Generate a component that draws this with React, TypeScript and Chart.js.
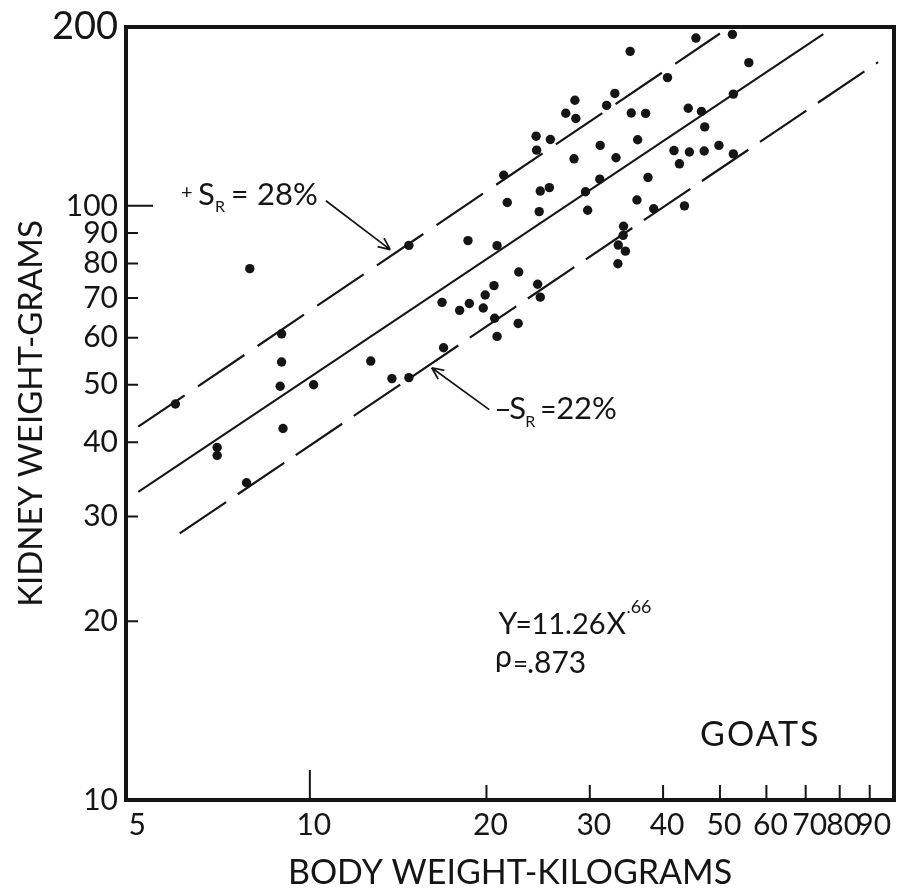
import React, { useEffect, useRef } from "react";
import { Chart, registerables } from "chart.js";

Chart.register(...registerables);

const FONT = 'Lato, "Open Sans", "DejaVu Sans", sans-serif';
const INK = "#151515";
const W = "400";

// Body weight (kg) of each goat
const bodyWeightKg = [
  5.9, 6.95, 6.95, 7.9, 7.8, 8.95, 8.95, 8.9, 9.0, 10.15,
  12.7, 13.8, 14.75, 14.75, 16.8, 16.9, 18.0, 18.6, 18.7, 19.75,
  19.9, 20.6, 20.65, 20.85, 20.85, 21.4, 21.7, 22.7, 22.65, 24.3,
  24.35, 24.45, 24.7, 24.6, 24.7, 25.6, 25.7, 27.3, 28.3, 28.4,
  28.2, 29.5, 29.75, 31.25, 31.2, 32.05, 33.1, 33.25, 33.55, 33.5,
  34.25, 34.2, 34.5, 35.15, 35.3, 36.2, 36.1, 37.35, 37.7, 38.55,
  40.7, 41.75, 42.65, 43.5, 44.15, 44.35, 45.5, 46.5, 47.1, 47.0,
  49.8, 52.5, 52.7, 52.7, 56.0,
];

// Kidney weight (g) of each goat
const kidneyWeightG = [
  46.4, 39.2, 38.0, 78.4, 34.2, 60.9, 54.6, 49.7, 42.2, 50.0,
  54.8, 51.2, 51.4, 85.8, 68.8, 57.7, 66.7, 87.4, 68.5, 67.3,
  70.8, 73.4, 64.7, 85.7, 60.3, 112.6, 101.3, 77.4, 63.4, 131.0,
  124.1, 73.8, 70.2, 97.8, 105.9, 107.3, 129.3, 143.2, 150.6, 140.3,
  120.0, 105.6, 98.3, 126.4, 110.9, 147.6, 154.6, 120.5, 85.9, 79.9,
  92.4, 89.2, 83.9, 182.0, 143.3, 129.2, 102.3, 143.1, 111.6, 98.9,
  164.4, 123.9, 117.7, 100.0, 146.0, 123.2, 191.6, 144.2, 135.8, 123.7,
  126.4, 194.4, 154.2, 122.3, 174.2,
];

// Fitted line Y = 11.26 X^.66 (end points) and the +28% / -22% bands
const fitX = [5.1, 75];
const fitY = [33.0, 194.6];
const upperX = [5.1, 50];
const upperY = [42.5, 195];
const lowerX = [6.0, 93];
const lowerY = [28.1, 174.5];

const xTickValues = [5, 10, 20, 30, 40, 50, 60, 70, 80, 90];
const yTickValues = [10, 20, 30, 40, 50, 60, 70, 80, 90, 100, 200];

// Annotation anchors (data coordinates)
const plusLabelAt = [6.03, 100.4];
const plusArrow = [10.65, 102, 13.71, 84.4];
const minusLabelAt = [20.61, 43.7];
const minusArrow = [20.22, 45.4, 16.13, 53.4];
const equationAt = [20.96, 19.03];
const rhoAt = [20.68, 16.38];
const goatsAt = [46.25, 12.32];

type Part = { text: string; size: number; dx: number; dy?: number };

function drawParts(ctx: CanvasRenderingContext2D, x: number, y: number, parts: Part[]) {
  for (const p of parts) {
    ctx.font = `${W} ${p.size}px ${FONT}`;
    ctx.fillText(p.text, x + p.dx, y + (p.dy || 0));
  }
}

function arrow(ctx: CanvasRenderingContext2D, x1: number, y1: number, x2: number, y2: number) {
  ctx.beginPath();
  ctx.moveTo(x1, y1);
  ctx.lineTo(x2, y2);
  const ang = Math.atan2(y2 - y1, x2 - x1);
  const h = 13;
  const spread = 0.42;
  ctx.moveTo(x2, y2);
  ctx.lineTo(x2 - h * Math.cos(ang - spread), y2 - h * Math.sin(ang - spread));
  ctx.moveTo(x2, y2);
  ctx.lineTo(x2 - h * Math.cos(ang + spread), y2 - h * Math.sin(ang + spread));
  ctx.stroke();
}

const paperPlugin = {
  id: "paper",
  afterDatasetsDraw(chart: any) {
    const { ctx, chartArea: a, scales } = chart;
    const xs = scales.x;
    const ys = scales.y;
    ctx.save();
    ctx.strokeStyle = INK;
    ctx.fillStyle = INK;
    ctx.lineCap = "butt";

    // frame
    ctx.lineWidth = 4;
    ctx.strokeRect(a.left, a.top, a.right - a.left, a.bottom - a.top);

    // inner tick marks
    ctx.lineWidth = 2;
    ctx.beginPath();
    for (const v of yTickValues) {
      if (v === 10 || v === 200) continue;
      const py = ys.getPixelForValue(v);
      const len = v === 100 ? 27 : 12;
      ctx.moveTo(a.left, py);
      ctx.lineTo(a.left + len, py);
    }
    for (const v of xTickValues) {
      if (v === 5) continue;
      const px = xs.getPixelForValue(v);
      const len = v === 10 ? 30 : 15;
      ctx.moveTo(px, a.bottom);
      ctx.lineTo(px, a.bottom - len);
    }
    ctx.stroke();

    // arrows
    ctx.lineWidth = 1.7;
    arrow(ctx, xs.getPixelForValue(plusArrow[0]), ys.getPixelForValue(plusArrow[1]),
      xs.getPixelForValue(plusArrow[2]), ys.getPixelForValue(plusArrow[3]));
    arrow(ctx, xs.getPixelForValue(minusArrow[0]), ys.getPixelForValue(minusArrow[1]),
      xs.getPixelForValue(minusArrow[2]), ys.getPixelForValue(minusArrow[3]));

    ctx.textAlign = "left";
    ctx.textBaseline = "alphabetic";

    // +S_R = 28%
    drawParts(ctx, xs.getPixelForValue(plusLabelAt[0]), ys.getPixelForValue(plusLabelAt[1]), [
      { text: "+", size: 20, dx: 0, dy: -6 },
      { text: "S", size: 31, dx: 17 },
      { text: "R", size: 16, dx: 34, dy: 7 },
      { text: "=", size: 30, dx: 50 },
      { text: "28%", size: 31, dx: 76 },
    ]);

    // -S_R = 22%
    drawParts(ctx, xs.getPixelForValue(minusLabelAt[0]), ys.getPixelForValue(minusLabelAt[1]), [
      { text: "\u2013", size: 30, dx: 0 },
      { text: "S", size: 31, dx: 15 },
      { text: "R", size: 16, dx: 31, dy: 8 },
      { text: "=", size: 28, dx: 46 },
      { text: "22%", size: 31, dx: 62 },
    ]);

    // Y = 11.26 X^.66
    drawParts(ctx, xs.getPixelForValue(equationAt[0]), ys.getPixelForValue(equationAt[1]), [
      { text: "Y", size: 30, dx: 0 },
      { text: "=", size: 28, dx: 17 },
      { text: "11.26", size: 29, dx: 33 },
      { text: "X", size: 30, dx: 108 },
      { text: ".66", size: 18, dx: 128, dy: -21 },
    ]);

    // rho = .873
    drawParts(ctx, xs.getPixelForValue(rhoAt[0]), ys.getPixelForValue(rhoAt[1]), [
      { text: "\u03C1", size: 30, dx: 0, dy: -6 },
      { text: "=", size: 26, dx: 18 },
      { text: ".873", size: 30, dx: 32 },
    ]);

    // GOATS
    ctx.font = `${W} 34px ${FONT}`;
    (ctx as any).letterSpacing = "2px";
    ctx.fillText("GOATS", xs.getPixelForValue(goatsAt[0]), ys.getPixelForValue(goatsAt[1]));
    (ctx as any).letterSpacing = "0px";

    ctx.restore();
  },
};

export default function App() {
  const ref = useRef<HTMLCanvasElement>(null);

  useEffect(() => {
    const points = bodyWeightKg.map((x, i) => ({ x, y: kidneyWeightG[i] }));
    const line = (xs: number[], ys: number[]) => xs.map((x, i) => ({ x, y: ys[i] }));

    const chart = new Chart(ref.current as HTMLCanvasElement, {
      type: "scatter",
      data: {
        datasets: [
          {
            label: "Goats",
            data: points,
            pointRadius: 4.7,
            pointBackgroundColor: INK,
            pointBorderWidth: 0,
            showLine: false,
          },
          {
            label: "Y = 11.26 X^.66",
            data: line(fitX, fitY),
            showLine: true,
            borderColor: INK,
            borderWidth: 2,
            pointRadius: 0,
          },
          {
            label: "+S_R = 28%",
            data: line(upperX, upperY),
            showLine: true,
            borderColor: INK,
            borderWidth: 2.2,
            borderDash: [56, 16],
            pointRadius: 0,
          },
          {
            label: "-S_R = 22%",
            data: line(lowerX, lowerY),
            showLine: true,
            borderColor: INK,
            borderWidth: 2.2,
            borderDash: [56, 14],
            pointRadius: 0,
          },
        ],
      } as any,
      options: {
        responsive: false,
        animation: false,
        layout: { padding: { top: 22, right: 22, left: 0, bottom: 0 } },
        plugins: {
          legend: { display: false },
          tooltip: { enabled: false },
        },
        scales: {
          x: {
            type: "logarithmic",
            min: 4.86,
            max: 99,
            afterBuildTicks: (scale: any) => {
              scale.ticks = xTickValues.map((v) => ({ value: v }));
            },
            afterFit: (scale: any) => {
              scale.height = 96;
            },
            grid: { display: false, drawTicks: false },
            border: { display: false },
            ticks: {
              autoSkip: false,
              maxRotation: 0,
              minRotation: 0,
              padding: 10,
              labelOffset: 4,
              color: INK,
              font: { family: FONT, size: 30, weight: W, lineHeight: 1 },
              callback: (v: any) => String(v),
            },
            title: {
              display: true,
              text: "BODY WEIGHT-KILOGRAMS",
              color: INK,
              font: { family: FONT, size: 34, weight: W, lineHeight: 1.2 },
              padding: { top: 0, bottom: 3 },
            },
          },
          y: {
            type: "logarithmic",
            min: 10,
            max: 200,
            afterBuildTicks: (scale: any) => {
              scale.ticks = yTickValues.map((v) => ({ value: v }));
            },
            afterFit: (scale: any) => {
              scale.width = 126;
            },
            grid: { display: false, drawTicks: false },
            border: { display: false },
            ticks: {
              autoSkip: false,
              padding: 8,
              color: INK,
              font: (c: any) => ({
                family: FONT,
                size: c.tick && c.tick.value === 200 ? 38 : 30,
                weight: W,
                lineHeight: 1,
              }),
              callback: (v: any) => String(v),
            },
            title: {
              display: true,
              text: "KIDNEY WEIGHT-GRAMS",
              color: INK,
              font: { family: FONT, size: 33, weight: W, lineHeight: 1.2 },
              padding: { top: 12, bottom: 0 },
            },
          },
        },
      } as any,
      plugins: [paperPlugin],
    });

    return () => chart.destroy();
  }, []);

  return (
    <div style={{ position: "absolute", left: 0, top: 0, width: 916, height: 896, background: "#fff" }}>
      <canvas ref={ref} width={916} height={896} style={{ display: "block" }} />
    </div>
  );
}
